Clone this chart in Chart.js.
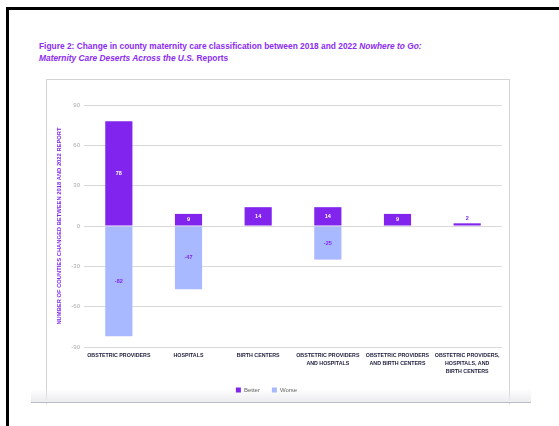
<!DOCTYPE html>
<html>
<head>
<meta charset="utf-8">
<script src="https://cdn.jsdelivr.net/npm/chart.js@4.4.1/dist/chart.umd.min.js"></script>
<style>
  html, body { margin: 0; padding: 0; background: #fff; width: 559px; height: 426px; overflow: hidden; }
  #frame { position: absolute; left: 6px; top: 7px; width: 600px; height: 500px; border-left: 3px solid #000; border-top: 3px solid #000; }
  #title { position: absolute; left: 39px; top: 40px; width: 480px; font-family: "Liberation Sans", Arial, sans-serif; font-weight: bold; font-size: 8.4px; line-height: 12px; color: #8B2CF0; white-space: nowrap; }
  #box { position: absolute; left: 46px; top: 79px; width: 462px; height: 324px; border-left: 1px solid #d4d4d4; border-top: 1px solid #d4d4d4; border-right: 1px solid #d4d4d4; }
  #shadow { position: absolute; left: 31px; top: 389px; width: 500px; height: 13px; background: linear-gradient(to bottom, rgba(240,240,242,0), rgba(236,236,240,1)); }
  #bottomline { position: absolute; left: 31px; top: 402px; width: 500px; height: 1px; background: #b9bdc8; }
  #wrap { position: absolute; left: 31px; top: 85px; width: 500px; height: 318px; }
</style>
</head>
<body>
<div id="frame"></div>
<div id="title">Figure 2: Change in county maternity care classification between 2018 and 2022 <i>Nowhere to Go:</i><br><i>Maternity Care Deserts Across the U.S.</i> Reports</div>
<div id="box"></div>
<div id="shadow"></div>
<div id="bottomline"></div>
<div id="wrap"><canvas id="c"></canvas></div>
<script>
const categories = [
  ["OBSTETRIC PROVIDERS"],
  ["HOSPITALS"],
  ["BIRTH CENTERS"],
  ["OBSTETRIC PROVIDERS", "AND HOSPITALS"],
  ["OBSTETRIC PROVIDERS", "AND BIRTH CENTERS"],
  ["OBSTETRIC PROVIDERS,", "HOSPITALS, AND", "BIRTH CENTERS"]
];
const betterValues = [78, 9, 14, 14, 9, 2];
const worseValues = [-82, -47, null, -25, null, null];
const yTicks = [-90, -60, -30, 0, 30, 60, 90];

const PURPLE = '#8125EE';
const PERI = '#A9B9FF';

const labelPlugin = {
  id: 'barLabels',
  afterDatasetsDraw(chart) {
    const ctx = chart.ctx;
    ctx.save();
    ctx.font = 'bold 5.5px "Liberation Sans", Arial, sans-serif';
    ctx.textAlign = 'center';
    ctx.textBaseline = 'middle';
    chart.data.datasets.forEach((ds, di) => {
      const meta = chart.getDatasetMeta(di);
      meta.data.forEach((el, i) => {
        const v = ds.data[i];
        if (v === null || v === undefined) return;
        const h = Math.abs(el.base - el.y);
        let y = (el.y + el.base) / 2;
        let color = di === 0 ? '#ffffff' : PURPLE;
        if (h < 8) { y = Math.min(el.y, el.base) - 5; color = PURPLE; }
        ctx.fillStyle = color;
        ctx.fillText(String(v), el.x, y);
      });
    });
    ctx.restore();
  }
};

new Chart(document.getElementById('c'), {
  type: 'bar',
  data: {
    labels: categories,
    datasets: [
      { label: 'Better', data: betterValues, backgroundColor: PURPLE, barPercentage: 0.39, categoryPercentage: 1 },
      { label: 'Worse', data: worseValues, backgroundColor: PERI, barPercentage: 0.39, categoryPercentage: 1 }
    ]
  },
  options: {
    responsive: true,
    maintainAspectRatio: false,
    animation: false,
    devicePixelRatio: 1,
    layout: { padding: { top: 20, right: 29, left: 0, bottom: 0 } },
    plugins: {
      legend: {
        position: 'bottom',
        labels: {
          boxWidth: 5, boxHeight: 5, padding: 12, color: '#666',
          font: { family: '"Liberation Sans", Arial, sans-serif', size: 6 }
        }
      },
      tooltip: { enabled: false }
    },
    scales: {
      x: {
        stacked: true,
        grid: { display: false, drawTicks: false },
        border: { display: false },
        afterFit(scale) { scale.height = 28; },
        ticks: {
          autoSkip: false, maxRotation: 0, minRotation: 0, padding: 5,
          color: '#1b1c3a',
          font: { family: '"Liberation Sans", Arial, sans-serif', size: 5.3, weight: 'bold', lineHeight: 1.5 }
        }
      },
      y: {
        stacked: true,
        min: -90, max: 90,
        afterBuildTicks(scale) { scale.ticks = yTicks.map(v => ({ value: v })); },
        afterFit(scale) { scale.width = 53; },
        grid: { color: '#d9d9d9', lineWidth: 1, drawTicks: false },
        border: { display: false },
        ticks: {
          padding: 4, color: '#aaaaaa',
          font: { family: '"Liberation Sans", Arial, sans-serif', size: 6 }
        },
        title: {
          display: true,
          text: 'NUMBER OF COUNTIES CHANGED BETWEEN 2018 AND 2022 REPORT',
          color: PURPLE,
          padding: { top: 25, bottom: 0 },
          font: { family: '"Liberation Sans", Arial, sans-serif', size: 5.8, weight: 'bold' }
        }
      }
    }
  },
  plugins: [labelPlugin]
});
</script>
</body>
</html>
